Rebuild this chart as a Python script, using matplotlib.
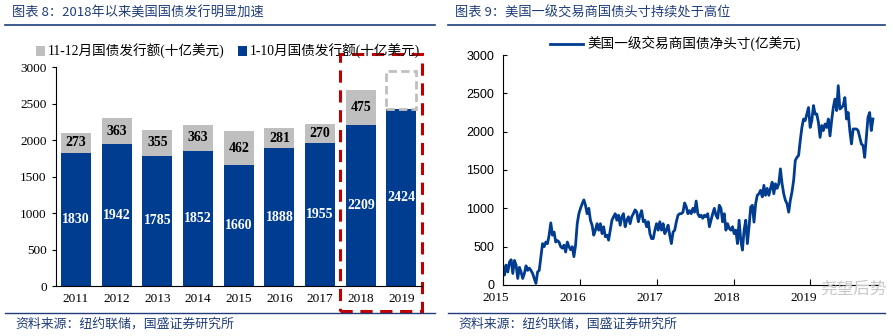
import matplotlib
matplotlib.use("Agg")
import matplotlib.pyplot as plt
import matplotlib.transforms as mtransforms
from matplotlib.patches import Rectangle
import pandas as pd

plt.rcParams['font.family'] = ['Liberation Serif', 'Noto Sans CJK SC']

################### DATA
years = ['2011', '2012', '2013', '2014', '2015', '2016', '2017', '2018', '2019']
issue_jan_oct = [1830, 1942, 1785, 1852, 1660, 1888, 1955, 2209, 2424]
issue_nov_dec = [273, 363, 355, 363, 462, 281, 270, 475, None]
est_2019_nov_dec = 530   # dashed placeholder above 2019

# primary dealer net treasury position (weekly), 2015-01 .. 2019-10
pos_2015 = [260, 130, 260, 170, 300, 330, 150, 320, 260, 85, 230, 170, 85, 150, 250,
            190, 220, 190, 150, 85, 20, 170, 190, 370, 540, 500, 560, 540, 650, 810,
            650, 690, 560, 580, 560, 500, 480, 520, 430, 560, 500, 460, 500]
pos_2016 = [370, 520, 800, 930, 1000, 1060, 1110, 1040, 930, 1000, 845, 780, 650, 715,
            800, 715, 800, 670, 760, 630, 650, 585, 715, 845, 890, 930, 845, 910, 780,
            890, 930, 760, 845, 890, 800, 890, 930, 980, 955, 825, 910, 970, 825, 845,
            760, 825, 670, 605]
pos_2017 = [605, 715, 800, 715, 825, 715, 800, 670, 715, 780, 650, 540, 690, 715, 825,
            910, 930, 930, 950, 1070, 1020, 930, 970, 930, 1000, 950, 1095, 930, 890,
            910, 870, 910, 890, 930, 760, 845, 930, 1000, 910, 870, 1040, 1000, 825,
            930, 715, 800, 740, 715, 760, 670, 715, 540]
pos_2018_19 = [845, 585, 455, 715, 845, 540, 760, 1017, 1040, 820, 1060, 1170, 1190,
               1235, 1150, 1300, 1170, 1260, 1170, 1260, 1340, 1190, 1320, 1260, 1320,
               1515, 1320, 1190, 1105, 1060, 950, 1105, 1215, 1365, 1625, 1665, 1690,
               1885, 2055, 2165, 2145, 2230, 2315, 2055, 2145, 2340, 2230, 2230, 2120,
               1925, 2080, 2015, 2100, 2055, 2165, 1945, 2145, 2315, 2425, 2275, 2600,
               2295, 2315, 2340, 2445, 2165, 2250, 2015, 1840, 2035, 2035, 2035, 2015,
               1925, 1840, 1820, 1665, 1925, 2185, 2250, 2015, 2165]
positions = pos_2015 + pos_2016 + pos_2017 + pos_2018_19
dates = pd.date_range('2015-01-02', '2019-10-25', periods=len(positions))

BLUE = '#003C8F'
GRAY = '#BFBFBF'
NAVY = '#1F3D7A'
RED = '#C00000'

fig = plt.figure(figsize=(8.93, 3.36), dpi=100)

# HEADER / FOOTER
def px(x, y):
    return x / 893, 1 - y / 336

for x0, x1, title in [(12, 435, '图表 8：2018年以来美国国债发行明显加速'),
                      (455, 885, '图表 9：美国一级交易商国债头寸持续处于高位')]:
    fig.text(*px(x0, 13), title, color=NAVY, fontsize=9.5, style='italic', va='center',
             family=['Noto Sans CJK SC'])
    fig.add_artist(plt.Line2D([px(x0 - 7, 0)[0], px(x1, 0)[0]], [px(0, 25)[1]] * 2,
                              color=NAVY, lw=1.2))
    fig.add_artist(plt.Line2D([px(x0 - 7, 0)[0], px(x1, 0)[0]], [px(0, 313)[1]] * 2,
                              color=NAVY, lw=1.0))
    fig.text(*px(x0 + 3, 324), '资料来源：纽约联储，国盛证券研究所', color=NAVY, fontsize=9.3,
             style='italic', va='center', family=['Noto Sans CJK SC'])

# LEFT: STACKED BARS
ax = fig.add_axes([0.0624, 0.1488, 0.4099, 0.6509])
xs = list(range(len(years)))
b1 = ax.bar(xs, issue_jan_oct, width=0.74, color=BLUE, label='1-10月国债发行额(十亿美元)')
nd = [v if v is not None else 0 for v in issue_nov_dec]
b2 = ax.bar(xs, nd, width=0.74, bottom=issue_jan_oct, color=GRAY,
            label='11-12月国债发行额(十亿美元)')
ax.bar(xs[-1], est_2019_nov_dec, width=0.74, bottom=issue_jan_oct[-1], fill=False,
       edgecolor=GRAY, lw=2, ls=(0, (3, 1.5)))

ax.bar_label(b1, labels=[str(v) for v in issue_jan_oct], label_type='center',
             color='white', fontweight='bold', fontsize=10)
ax.bar_label(b2, labels=[str(v) if v is not None else '' for v in issue_nov_dec],
             label_type='center', color='black', fontweight='bold', fontsize=10)

ax.set_xlim(-0.5, 8.5)
ax.set_ylim(0, 3000)
ax.set_yticks(range(0, 3001, 500))
ax.set_xticks(xs)
ax.set_xticklabels(years)
ax.tick_params(axis='x', length=0, labelsize=9.5, pad=5)
ax.tick_params(axis='y', direction='out', length=3, labelsize=9.5)
for s in ['top', 'right']:
    ax.spines[s].set_visible(False)

h, l = ax.get_legend_handles_labels()
ax.legend([h[1], h[0]], [l[1], l[0]], loc='lower center', bbox_to_anchor=(0.47, 1.0),
          ncol=2, frameon=False, handlelength=0.7, handleheight=0.7,
          handletextpad=0.15, columnspacing=1.0, borderaxespad=0.2,
          prop={'family': ['Liberation Serif', 'Noto Sans CJK SC'], 'size': 9.8})

ax.add_patch(Rectangle((6.5, -0.114), 2.0, 1.175, transform=ax.get_xaxis_transform(),
                       fill=False, edgecolor=RED, lw=2.2, ls=(0, (4, 2.5)), clip_on=False))

# RIGHT: LINE
ax2 = fig.add_axes([0.5629, 0.1518, 0.4203, 0.6845])
ax2.plot(dates, positions, color=BLUE, lw=2.0, label='美国一级交易商国债净头寸(亿美元)')
ax2.set_ylim(0, 3000)
ax2.set_yticks(range(0, 3001, 500))
ax2.set_xlim(pd.Timestamp('2015-01-01'), pd.Timestamp('2019-11-18'))
yt = [pd.Timestamp(f'{y}-01-01') for y in range(2015, 2020)]
ax2.set_xticks(yt)
ax2.set_xticklabels([str(t.year) for t in yt])
ax2.tick_params(axis='x', direction='in', length=4, labelsize=9.5, pad=5)
ax2.tick_params(axis='y', direction='in', length=3, labelsize=9, pad=6)
for lab in ax2.get_yticklabels():
    lab.set_family('Liberation Sans')
offset = mtransforms.ScaledTranslation(-7 / 100, 0, fig.dpi_scale_trans)
for lab in ax2.get_xticklabels():
    lab.set_transform(lab.get_transform() + offset)
for s in ['top', 'right']:
    ax2.spines[s].set_visible(False)
ax2.legend(loc='lower center', bbox_to_anchor=(0.46, 0.98), frameon=False,
           handlelength=2.4, handletextpad=0.3, borderaxespad=0.2,
           prop={'family': ['Liberation Serif', 'Noto Sans CJK SC'], 'size': 9.8})

# watermark
fig.text(*px(887, 289), '尧望后势', color='#C8C8C8', fontsize=12, va='center', ha='right',
         family=['Noto Sans CJK SC'])

fig.savefig('out.png', dpi=100)
